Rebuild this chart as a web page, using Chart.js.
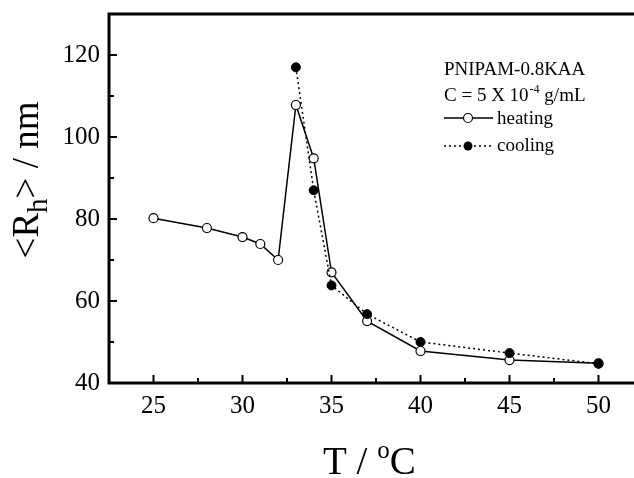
<!DOCTYPE html>
<html>
<head>
<meta charset="utf-8">
<script src="https://cdn.jsdelivr.net/npm/chart.js@4.4.1/dist/chart.umd.min.js"></script>
<style>
  html, body { margin: 0; padding: 0; background: #fff; overflow: hidden; }
  #wrap { width: 634px; height: 478px; overflow: hidden; }
</style>
</head>
<body>
<div id="wrap"><canvas id="chart" width="660" height="478"></canvas></div>
<script>
// heating run
const heatT = [25, 28, 30, 31, 32, 33, 34, 35, 37, 40, 45, 50];
const heatR = [80.2, 77.8, 75.6, 73.9, 70.0, 107.8, 94.8, 67.0, 55.1, 47.8, 45.6, 44.8];
// cooling run
const coolT = [33, 34, 35, 37, 40, 45, 50];
const coolR = [117.0, 87.0, 63.8, 56.8, 50.0, 47.3, 44.7];

// tick marks
const xTicks = [25, 30, 35, 40, 45, 50];
const xMinor = [22.5, 27.5, 32.5, 37.5, 42.5, 47.5];
const yTicks = [40, 60, 80, 100, 120];
const yMinor = [50, 70, 90, 110];

const serif = "'Liberation Serif', 'DejaVu Serif', serif";

function toPoints(xs, ys) {
  return xs.map((x, i) => ({ x: x, y: ys[i] }));
}

// frame + inward ticks
const framePlugin = {
  id: "frame",
  afterDraw(chart) {
    const ctx = chart.ctx;
    const a = chart.chartArea;
    const x = chart.scales.x;
    const y = chart.scales.y;
    ctx.save();
    ctx.strokeStyle = "#000";
    ctx.lineWidth = 3;
    ctx.strokeRect(a.left, a.top, a.right - a.left, a.bottom - a.top);

    ctx.lineWidth = 2;
    ctx.beginPath();
    xTicks.forEach((v) => {
      const p = x.getPixelForValue(v);
      ctx.moveTo(p, a.bottom);
      ctx.lineTo(p, a.bottom - 8);
    });
    xMinor.forEach((v) => {
      const p = x.getPixelForValue(v);
      ctx.moveTo(p, a.bottom);
      ctx.lineTo(p, a.bottom - 5);
    });
    yTicks.forEach((v) => {
      const p = y.getPixelForValue(v);
      ctx.moveTo(a.left, p);
      ctx.lineTo(a.left + 8, p);
    });
    yMinor.forEach((v) => {
      const p = y.getPixelForValue(v);
      ctx.moveTo(a.left, p);
      ctx.lineTo(a.left + 5, p);
    });
    ctx.stroke();
    ctx.restore();
  },
};

// axis titles and legend block (with sub/superscripts)
const textPlugin = {
  id: "texts",
  afterDraw(chart) {
    const ctx = chart.ctx;
    ctx.save();
    ctx.fillStyle = "#000";
    ctx.textBaseline = "alphabetic";
    ctx.textAlign = "left";

    // x title: T / oC
    let px = 323;
    const by = 474;
    ctx.font = "39px " + serif;
    ctx.fillText("T / ", px, by);
    px += ctx.measureText("T / ").width;
    ctx.font = "25px " + serif;
    ctx.fillText("o", px, by - 16);
    px += ctx.measureText("o").width;
    ctx.font = "39px " + serif;
    ctx.fillText("C", px, by);

    // y title: <Rh> / nm (rotated)
    ctx.save();
    ctx.translate(38, 180);
    ctx.rotate(-Math.PI / 2);
    const parts = [
      { t: "<R", f: 37, dy: 0 },
      { t: "h", f: 29, dy: 9 },
      { t: "> / nm", f: 37, dy: 0 },
    ];
    let total = 0;
    parts.forEach((p) => {
      ctx.font = p.f + "px " + serif;
      total += ctx.measureText(p.t).width;
    });
    let tx = -total / 2;
    parts.forEach((p) => {
      ctx.font = p.f + "px " + serif;
      ctx.fillText(p.t, tx, p.dy);
      tx += ctx.measureText(p.t).width;
    });
    ctx.restore();

    // legend block
    const lx = 444;
    ctx.font = "19px " + serif;
    ctx.fillText("PNIPAM-0.8KAA", lx, 75);
    let cx = lx;
    ctx.fillText("C = 5 X 10", cx, 101);
    cx += ctx.measureText("C = 5 X 10").width;
    ctx.font = "12px " + serif;
    ctx.fillText("-4", cx + 1, 93);
    cx += ctx.measureText("-4").width + 1;
    ctx.font = "19px " + serif;
    ctx.fillText(" g/mL", cx, 101);

    ctx.fillText("heating", 497, 124);
    ctx.fillText("cooling", 497, 151);

    // heating sample
    ctx.strokeStyle = "#000";
    ctx.lineWidth = 1.5;
    ctx.setLineDash([]);
    ctx.beginPath();
    ctx.moveTo(444, 118);
    ctx.lineTo(493, 118);
    ctx.stroke();
    ctx.beginPath();
    ctx.arc(468, 118, 4.5, 0, Math.PI * 2);
    ctx.fillStyle = "#fff";
    ctx.fill();
    ctx.lineWidth = 1.2;
    ctx.stroke();

    // cooling sample
    ctx.lineWidth = 1.5;
    ctx.setLineDash([2, 3]);
    ctx.beginPath();
    ctx.moveTo(444, 146);
    ctx.lineTo(493, 146);
    ctx.stroke();
    ctx.setLineDash([]);
    ctx.beginPath();
    ctx.arc(468, 146, 4.5, 0, Math.PI * 2);
    ctx.fillStyle = "#000";
    ctx.fill();

    ctx.restore();
  },
};

const ctx = document.getElementById("chart").getContext("2d");
new Chart(ctx, {
  type: "scatter",
  data: {
    datasets: [
      {
        label: "cooling",
        data: toPoints(coolT, coolR),
        showLine: true,
        borderColor: "#000",
        borderWidth: 1.5,
        borderDash: [2, 3],
        pointRadius: 4.5,
        pointBackgroundColor: "#000",
        pointBorderColor: "#000",
        pointBorderWidth: 1,
        order: 0,
      },
      {
        label: "heating",
        data: toPoints(heatT, heatR),
        showLine: true,
        borderColor: "#000",
        borderWidth: 1.5,
        pointRadius: 4.5,
        pointBackgroundColor: "#fff",
        pointBorderColor: "#000",
        pointBorderWidth: 1.2,
        order: 1,
      },
    ],
  },
  options: {
    responsive: false,
    animation: false,
    layout: { padding: { top: 14, right: 17, left: 0, bottom: 0 } },
    plugins: {
      legend: { display: false },
      tooltip: { enabled: false },
    },
    scales: {
      x: {
        type: "linear",
        min: 22.5,
        max: 52.5,
        grid: { display: false, drawTicks: false },
        border: { display: false },
        afterBuildTicks: (s) => {
          s.ticks = xTicks.map((v) => ({ value: v }));
        },
        afterFit: (s) => {
          s.height = 95;
          s.paddingLeft = 0;
          s.paddingRight = 0;
        },
        ticks: {
          color: "#000",
          padding: 8,
          font: { family: serif, size: 25 },
        },
      },
      y: {
        type: "linear",
        min: 40,
        max: 130,
        grid: { display: false, drawTicks: false },
        border: { display: false },
        afterBuildTicks: (s) => {
          s.ticks = yTicks.map((v) => ({ value: v }));
        },
        afterFit: (s) => {
          s.width = 109;
          s.paddingTop = 0;
          s.paddingBottom = 0;
        },
        ticks: {
          color: "#000",
          padding: 9,
          font: { family: serif, size: 25 },
        },
      },
    },
  },
  plugins: [framePlugin, textPlugin],
});
</script>
</body>
</html>
